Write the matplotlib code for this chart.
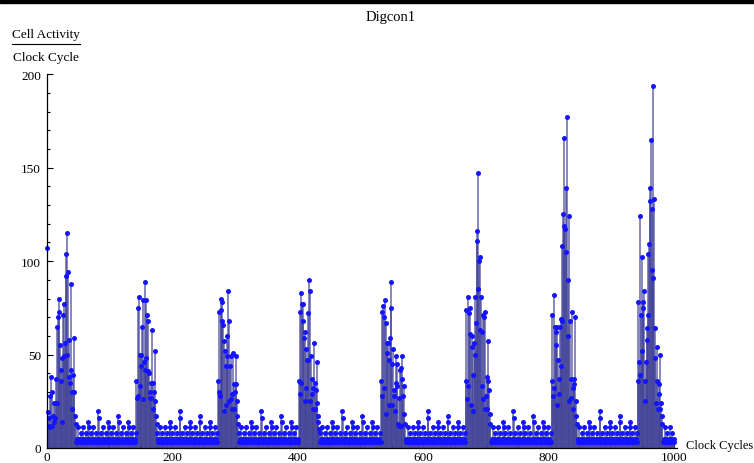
#!/usr/bin/env python3
"""Digcon1 cell activity per clock cycle, Mathematica-style stem plot."""

import numpy as np
import matplotlib

matplotlib.use('Agg')
import matplotlib.pyplot as plt
from matplotlib.patches import Rectangle
from matplotlib.ticker import MultipleLocator

plt.rcParams['font.family'] = ['Liberation Serif', 'DejaVu Serif']

# ── Data ─────────────────────────────────────────────────────────────────────
N_CYCLES = 1000

# first clock cycle of each burst
BURST_START = [1, 143, 273, 402, 533, 668, 805, 942]

BURST_1 = [107, 19, 12, 16, 11, 28, 38, 12, 30, 17, 24, 14, 16, 24, 37, 24,
           65, 70, 80, 73, 55, 36, 42, 14, 48, 71, 77, 49, 56, 104, 92, 115,
           50, 94, 58, 38, 35, 42, 88, 30, 21, 39, 59, 30, 17, 13]
BURST_2 = [36, 27, 75, 28, 81, 33, 50, 50, 44, 65, 26, 79, 46, 42, 89, 48,
           79, 71, 41, 68, 40, 30, 27, 27, 35, 63, 35, 21, 30, 52, 25, 17,
           13, 8]
BURST_3 = [36, 30, 73, 28, 74, 80, 78, 68, 66, 20, 57, 52, 44, 23, 60, 49,
           84, 68, 25, 44, 49, 26, 29, 21, 51, 34, 21, 30, 34, 49, 25, 17,
           13, 8]
BURST_4 = [36, 73, 29, 83, 35, 77, 77, 68, 59, 25, 62, 53, 32, 47, 72, 47,
           90, 84, 25, 49, 29, 37, 32, 21, 56, 21, 35, 31, 46, 24, 17, 14,
           10, 8]
BURST_5 = [36, 73, 28, 76, 32, 70, 79, 67, 18, 56, 51, 56, 47, 23, 59, 89,
           75, 23, 45, 53, 28, 31, 20, 35, 49, 33, 45, 13, 27, 12, 42, 12,
           43, 37, 49, 28, 33, 18, 13]
BURST_6 = [36, 74, 26, 81, 33, 72, 75, 61, 23, 60, 54, 39, 20, 56, 50, 81,
           67, 116, 111, 147, 85, 100, 63, 102, 81, 33, 62, 71, 26, 70, 21,
           73, 28, 38, 21, 36, 57, 31, 18, 13]
BURST_7 = [36, 71, 28, 82, 32, 65, 55, 62, 23, 65, 47, 37, 29, 65, 44, 69,
           108, 68, 125, 166, 119, 117, 105, 139, 177, 60, 90, 124, 25, 68,
           27, 37, 73, 32, 21, 34, 37, 70, 25, 17, 13]
BURST_8 = [36, 78, 46, 124, 39, 71, 102, 52, 75, 78, 84, 25, 36, 46, 58, 64,
           71, 104, 109, 139, 132, 165, 128, 95, 194, 91, 133, 48, 64, 24, 54,
           36, 21, 34, 29, 50, 21, 24, 17, 13]
BURSTS = [BURST_1, BURST_2, BURST_3, BURST_4,
          BURST_5, BURST_6, BURST_7, BURST_8]

# activity in the quiet stretch that follows each burst
QUIET = [3, 5, 3, 11, 3, 5, 3, 8,
         3, 5, 3, 11, 3, 5, 3, 8,
         3, 5, 3, 14, 11, 5, 3, 8,
         3, 5, 3, 11, 3, 5, 3, 8,
         3, 5, 3, 20, 16, 5, 3, 8,
         3, 5, 3, 11, 3, 5, 3, 8,
         3, 5, 3, 14, 11, 5, 3, 8,
         3, 5, 3, 11, 3, 5, 3, 8,
         3, 5, 3, 17, 14, 5, 3, 8,
         3, 5, 3, 11, 3, 5, 3, 8,
         3, 5, 3, 14, 11, 5, 3, 8,
         3, 5, 3, 11, 3, 5, 3, 8,
         3, 5, 3, 14, 11, 5, 3, 8]

cycles = np.arange(1, N_CYCLES + 1)
activity = np.zeros(N_CYCLES)
for k, (start, burst) in enumerate(zip(BURST_START, BURSTS)):
    i0 = start - 1
    activity[i0:i0 + len(burst)] = burst
    q0 = i0 + len(burst)
    q1 = BURST_START[k + 1] - 1 if k + 1 < len(BURST_START) else N_CYCLES
    activity[q0:q1] = QUIET[:q1 - q0]

# ── Canvas ───────────────────────────────────────────────────────────────────
W, H = 754, 464
fig = plt.figure(figsize=(W / 100, H / 100), dpi=100)
fig.patch.set_facecolor('white')

X0, X1 = 46.7, 676.7     # px of x = 0 and right end of the axis
Y0, Y1 = 449.0, 75.3     # px of y = 0 and y = 200
ax = fig.add_axes([X0 / W, 1 - Y0 / H, (X1 - X0) / W, (Y0 - Y1) / H])
ax.set_xlim(0, 1004)
ax.set_ylim(0, 200)

ax.vlines(cycles, 0, activity, colors='#414196', linewidth=1.1,
          alpha=0.8, zorder=2)
ax.plot(cycles, activity, 'o', ls='none', color='#1414ff', ms=3.6,
        mew=0, zorder=3, clip_on=False)

for s in ('top', 'right'):
    ax.spines[s].set_visible(False)
for s in ('left', 'bottom'):
    ax.spines[s].set_linewidth(0.9)
    ax.spines[s].set_zorder(4)

ax.xaxis.set_major_locator(MultipleLocator(200))
ax.xaxis.set_minor_locator(MultipleLocator(50))
ax.yaxis.set_major_locator(MultipleLocator(50))
ax.yaxis.set_minor_locator(MultipleLocator(10))
ax.tick_params(which='both', direction='in', labelsize=9.5, width=0.8)
ax.tick_params(which='major', length=4)
ax.tick_params(which='minor', length=2.5)
ax.tick_params(axis='x', pad=2)
ax.tick_params(axis='y', pad=4)

# ── Labels ───────────────────────────────────────────────────────────────────
fig.text(391 / W, 1 - 17 / H, 'Digcon1', ha='center', va='center',
         fontsize=10.5)
fig.text(46 / W, 1 - 35 / H, 'Cell Activity', ha='center', va='center',
         fontsize=9.5)
fig.lines.append(plt.Line2D([12 / W, 80 / W], [1 - 45 / H, 1 - 45 / H],
                            color='black', lw=0.8, transform=fig.transFigure))
fig.text(46 / W, 1 - 58 / H, 'Clock Cycle', ha='center', va='center',
         fontsize=9.5)
fig.text(686 / W, 1 - 446 / H, 'Clock Cycles', ha='left', va='center',
         fontsize=9)

fig.patches.append(Rectangle((0, 1 - 4 / H), 1, 4 / H, color='black',
                             transform=fig.transFigure, zorder=10))

fig.savefig('out.png', dpi=100, facecolor=fig.get_facecolor())
plt.close(fig)
